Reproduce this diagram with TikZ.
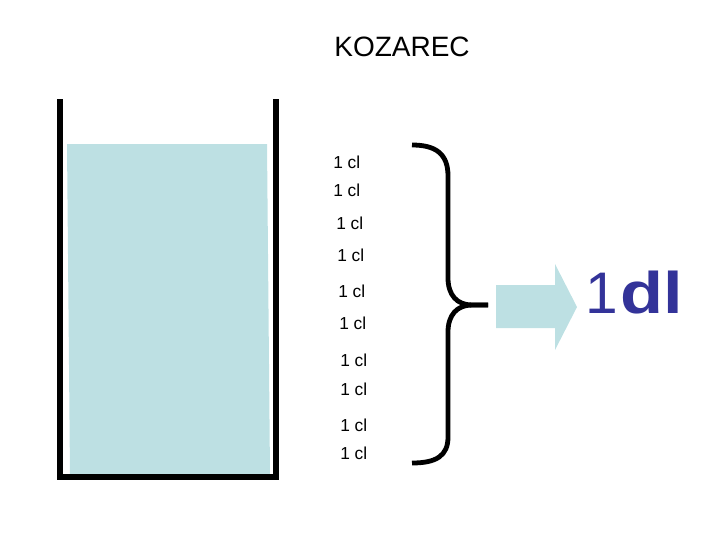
\documentclass[tikz,border=0pt]{standalone}
\usepackage{fontspec}
\setmainfont{Liberation Sans}
\definecolor{water}{RGB}{189,224,227}
\definecolor{navy}{RGB}{51,51,153}
\begin{document}
\begin{tikzpicture}[x=0.75pt,y=-0.75pt,
  wall/.style={line width=4.5pt,miter limit=10},
  bracel/.style={line width=3.6pt,line cap=butt},
  cl/.style={anchor=west,inner sep=0pt,font=\fontsize{13pt}{15pt}\selectfont},
  big/.style={anchor=west,inner sep=0pt,text=navy,font=\fontsize{44pt}{48pt}\selectfont},
]
\useasboundingbox (0,0) rectangle (720,540);
% water
\fill[water] (67,144) -- (267,144) -- (270,475) -- (70,475) -- cycle;
% glass
\draw[wall] (59.5,99) -- (59.5,477) -- (275.5,477) -- (275.5,99);
% title
\node[inner sep=0pt,font=\fontsize{21pt}{24pt}\selectfont] (title) at (402,47) {KOZAREC};
% labels
\node[cl] (c1) at (333,162) {1 cl};
\node[cl] (c2) at (333,190) {1 cl};
\node[cl] (c3) at (336,223) {1 cl};
\node[cl] (c4) at (337,255) {1 cl};
\node[cl] (c5) at (338,291) {1 cl};
\node[cl] (c6) at (339,323) {1 cl};
\node[cl] (c7) at (340,360) {1 cl};
\node[cl] (c8) at (340,389) {1 cl};
\node[cl] (c9) at (340,425) {1 cl};
\node[cl] (c10) at (340,453) {1 cl};
% brace
\coordinate (btop) at (412,145);
\coordinate (btip) at (488,305);
\coordinate (bbot) at (412,463);
\draw[bracel] (btop) .. controls (436,145) and (448,154) .. (448,176) -- (448,278)
  .. controls (448,295) and (457,305) .. (472,305) -- (btip);
\draw[bracel] (btip) -- (472,305) .. controls (457,305) and (448,315) .. (448,332)
  -- (448,437) .. controls (448,456) and (436,463) .. (bbot);
% arrow
\fill[water] (496,285) -- (555,285) -- (555,264) -- (577,307) -- (555,350) -- (555,328) -- (496,328) -- cycle;
% result
\node[big] (one) at (585,293) {1};
\node[big] (dl) at (620,293) {\scalebox{1.2}[1]{\textbf{dl}}};
\end{tikzpicture}
\end{document}
